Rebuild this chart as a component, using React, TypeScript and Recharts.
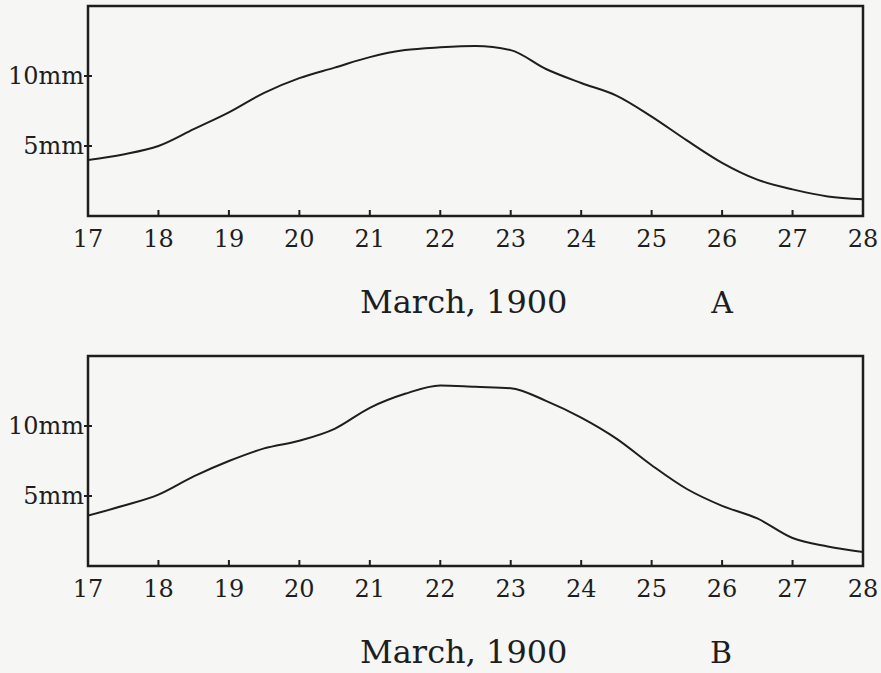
import React from 'react';
import { LineChart, Line, XAxis, YAxis, ReferenceArea } from 'recharts';

// day of March 1900, every half day
const days = [
  17, 17.5, 18, 18.5, 19, 19.5, 20, 20.5, 21, 21.5, 22, 22.5,
  23, 23.5, 24, 24.5, 25, 25.5, 26, 26.5, 27, 27.5, 28,
];

// curve A, mm
const depthA = [
  4.0, 4.4, 5.0, 6.2, 7.4, 8.8, 9.85, 10.6, 11.35, 11.85, 12.05, 12.15,
  11.85, 10.5, 9.5, 8.6, 7.1, 5.4, 3.8, 2.6, 1.9, 1.4, 1.2,
];

// curve B, mm
const depthB = [
  3.6, 4.3, 5.1, 6.4, 7.5, 8.4, 8.95, 9.8, 11.3, 12.3, 12.9, 12.8,
  12.7, 11.8, 10.6, 9.1, 7.2, 5.5, 4.3, 3.4, 2.0, 1.4, 1.0,
];

const dayTicks = [17, 18, 19, 20, 21, 22, 23, 24, 25, 26, 27, 28];
const mmTicks = [5, 10];
const mmLabels = ['5mm', '10mm'];

const INK = '#1e1e1e';
const FONT = '"DejaVu Serif", "Liberation Serif", serif';

const DayTick = (props: any) => {
  const { x, y, payload } = props;
  const v = payload.value;
  return (
    <g>
      {v > 17 && v < 28 && (
        <line x1={x} x2={x} y1={y} y2={y - 6} stroke={INK} strokeWidth={2} />
      )}
      <text x={x} y={y + 31} textAnchor='middle' fontSize={24} fontFamily={FONT} fill={INK}>
        {v}
      </text>
    </g>
  );
};

const MmTick = (props: any) => {
  const { x, y, payload } = props;
  const label = mmLabels[mmTicks.indexOf(payload.value)];
  return (
    <g>
      <line x1={x - 4} x2={x + 4} y1={y} y2={y} stroke={INK} strokeWidth={2} />
      <text x={x - 4} y={y + 8} textAnchor='end' fontSize={24} fontFamily={FONT} fill={INK}>
        {label}
      </text>
    </g>
  );
};

const Panel = ({ values, height, bottom }: { values: number[]; height: number; bottom: number }) => {
  const data = days.map((d, i) => ({ day: d, mm: values[i] }));
  return (
    <LineChart width={881} height={height} data={data} margin={{ top: 6, right: 18, left: 0, bottom }}>
      <XAxis
        dataKey='day'
        type='number'
        domain={[17, 28]}
        ticks={dayTicks}
        allowDataOverflow
        axisLine={false}
        tickLine={false}
        tickSize={0}
        tickMargin={0}
        height={40}
        tick={<DayTick />}
        interval={0}
      />
      <YAxis
        type='number'
        domain={[0, 15]}
        ticks={mmTicks}
        allowDataOverflow
        axisLine={false}
        tickLine={false}
        tickSize={0}
        tickMargin={0}
        width={88}
        tick={<MmTick />}
        interval={0}
      />
      <ReferenceArea x1={17} x2={28} y1={0} y2={15} fill='none' stroke={INK} strokeWidth={2.5} />
      <Line
        type='monotone'
        dataKey='mm'
        stroke={INK}
        strokeWidth={2}
        dot={false}
        isAnimationActive={false}
      />
    </LineChart>
  );
};

const Caption = ({ y, letter, letterX }: { y: number; letter: string; letterX: number }) => (
  <>
    <text x={360} y={y} fontSize={32} fontFamily={FONT} fill={INK}>
      March, 1900
    </text>
    <text x={letterX} y={y} textAnchor='middle' fontSize={30} fontFamily={FONT} fill={INK}>
      {letter}
    </text>
  </>
);

export default function App() {
  return (
    <div
      style={{
        position: 'absolute',
        left: 0,
        top: 0,
        width: 881,
        height: 673,
        overflow: 'hidden',
        background: '#f6f6f5',
      }}
    >
      <div style={{ position: 'absolute', left: 0, top: 0 }}>
        <Panel values={depthA} height={340} bottom={84} />
      </div>
      <div style={{ position: 'absolute', left: 0, top: 350 }}>
        <Panel values={depthB} height={323} bottom={67} />
      </div>
      <svg width={881} height={673} style={{ position: 'absolute', left: 0, top: 0, pointerEvents: 'none' }}>
        <Caption y={313} letter='A' letterX={722} />
        <Caption y={663} letter='B' letterX={721} />
      </svg>
    </div>
  );
}
